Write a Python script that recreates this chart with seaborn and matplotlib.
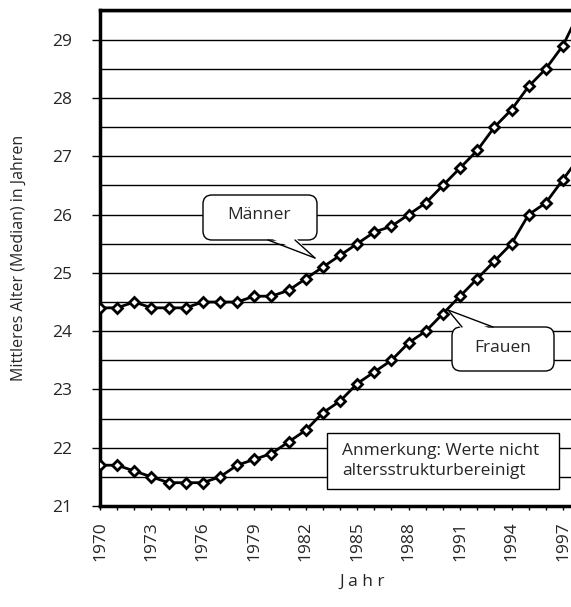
import numpy as np
import pandas as pd
import matplotlib
matplotlib.use("Agg")
import matplotlib.pyplot as plt
from matplotlib.ticker import MultipleLocator
from matplotlib.patches import FancyBboxPatch, Polygon, Rectangle
from matplotlib.lines import Line2D
from matplotlib.transforms import Affine2D
import seaborn as sns

years = list(range(1970, 1999))
maenner = [24.4, 24.4, 24.5, 24.4, 24.4, 24.4, 24.5, 24.5, 24.5, 24.6,
           24.6, 24.7, 24.9, 25.1, 25.3, 25.5, 25.7, 25.8, 26.0, 26.2,
           26.5, 26.8, 27.1, 27.5, 27.8, 28.2, 28.5, 28.9, 29.5]
frauen = [21.7, 21.7, 21.6, 21.5, 21.4, 21.4, 21.4, 21.5, 21.7, 21.8,
          21.9, 22.1, 22.3, 22.6, 22.8, 23.1, 23.3, 23.5, 23.8, 24.0,
          24.3, 24.6, 24.9, 25.2, 25.5, 26.0, 26.2, 26.6, 27.0]
tick_years = list(range(1970, 1998, 3))
y_ticks = list(range(21, 30))

W, H = 571, 607

sns.set_theme(style="white")
plt.rcParams["font.family"] = ["Open Sans", "DejaVu Sans"]

fig = plt.figure(figsize=(W / 100, H / 100), dpi=100)
ax = fig.add_axes([100 / W, 1 - 506 / H, 1 - 100 / W, (506 - 10) / H])

df = pd.DataFrame({"Jahr": years * 2,
                   "Alter": maenner + frauen,
                   "Gruppe": ["Männer"] * len(years) + ["Frauen"] * len(years)})
for name in ["Männer", "Frauen"]:
    sns.lineplot(data=df[df["Gruppe"] == name], x="Jahr", y="Alter", ax=ax,
                 color="black", lw=2.0, marker="D", markersize=5.2,
                 markerfacecolor="white", markeredgecolor="black",
                 markeredgewidth=2.0, zorder=5)

ax.set_xlim(1970, 1997.47)
ax.set_ylim(21, 29.51)

ax.yaxis.set_minor_locator(MultipleLocator(0.5))
ax.set_yticks(y_ticks)
ax.set_yticklabels([str(v) for v in y_ticks], fontsize=12.5)
ax.set_xticks(tick_years)
ax.set_xticklabels([str(v) for v in tick_years], rotation=90, fontsize=12.5)
ax.xaxis.set_minor_locator(MultipleLocator(1))

ax.grid(which="both", axis="y", color="black", lw=1.0, zorder=0)
ax.grid(False, axis="x", which="both")
ax.tick_params(axis="y", which="major", direction="out", length=6, width=1,
               color="black", pad=14, left=True)
ax.tick_params(axis="y", which="minor", length=0)
ax.tick_params(axis="x", which="both", direction="out", length=3, width=1,
               color="black", bottom=True, pad=8)

for side in ["left", "top", "bottom"]:
    ax.spines[side].set_visible(True)
    ax.spines[side].set_color("black")
    ax.spines[side].set_linewidth(2.5)
ax.spines["right"].set_visible(False)

ax.set_xlabel("")
ax.set_ylabel("")
fig.text(19 / W, 1 - 258 / H, "Mittleres Alter (Median) in Jahren",
         fontsize=11.5, rotation=90, ha="center", va="center")
fig.text(362 / W, 1 - 582 / H, "J a h r", fontsize=12.5, ha="center", va="center")

# pixel coordinates measured from the top-left corner of the figure
pix = Affine2D().scale(1 / W, -1 / H).translate(0, 1) + fig.transFigure


def callout(x0, y0, x1, y1, base, tip, label, cx, cy):
    box = FancyBboxPatch((x0, y0), x1 - x0, y1 - y0,
                         boxstyle="round,pad=0,rounding_size=9",
                         transform=pix, fc="white", ec="black", lw=1.0,
                         zorder=6)
    fig.add_artist(box)
    by = base[2]
    inward = 3 if by == y1 else -3
    tail = Polygon([(base[0], by - inward), (base[1], by - inward), tip],
                   closed=True, transform=pix, fc="white", ec="none", zorder=7)
    fig.add_artist(tail)
    for bx in base[:2]:
        fig.add_artist(Line2D([bx, tip[0]], [by, tip[1]], transform=pix,
                              color="black", lw=1.0, zorder=8))
    fig.text(cx / W, 1 - cy / H, label, fontsize=12.5, ha="center",
             va="center", zorder=9)


callout(203, 195, 317, 240, (268, 295, 240), (315, 258), "Männer", 259, 215)
callout(452, 327, 554, 371, (462, 493, 327), (448, 310), "Frauen", 503, 348)

fig.add_artist(Rectangle((327, 433), 232, 56, transform=pix, fc="white",
                         ec="black", lw=1.0, zorder=6))
fig.text(342 / W, 1 - 461 / H, "Anmerkung: Werte nicht\naltersstrukturbereinigt",
         fontsize=12.5, ha="left", va="center", linespacing=1.35, zorder=9)

fig.savefig("out.png", dpi=100)
